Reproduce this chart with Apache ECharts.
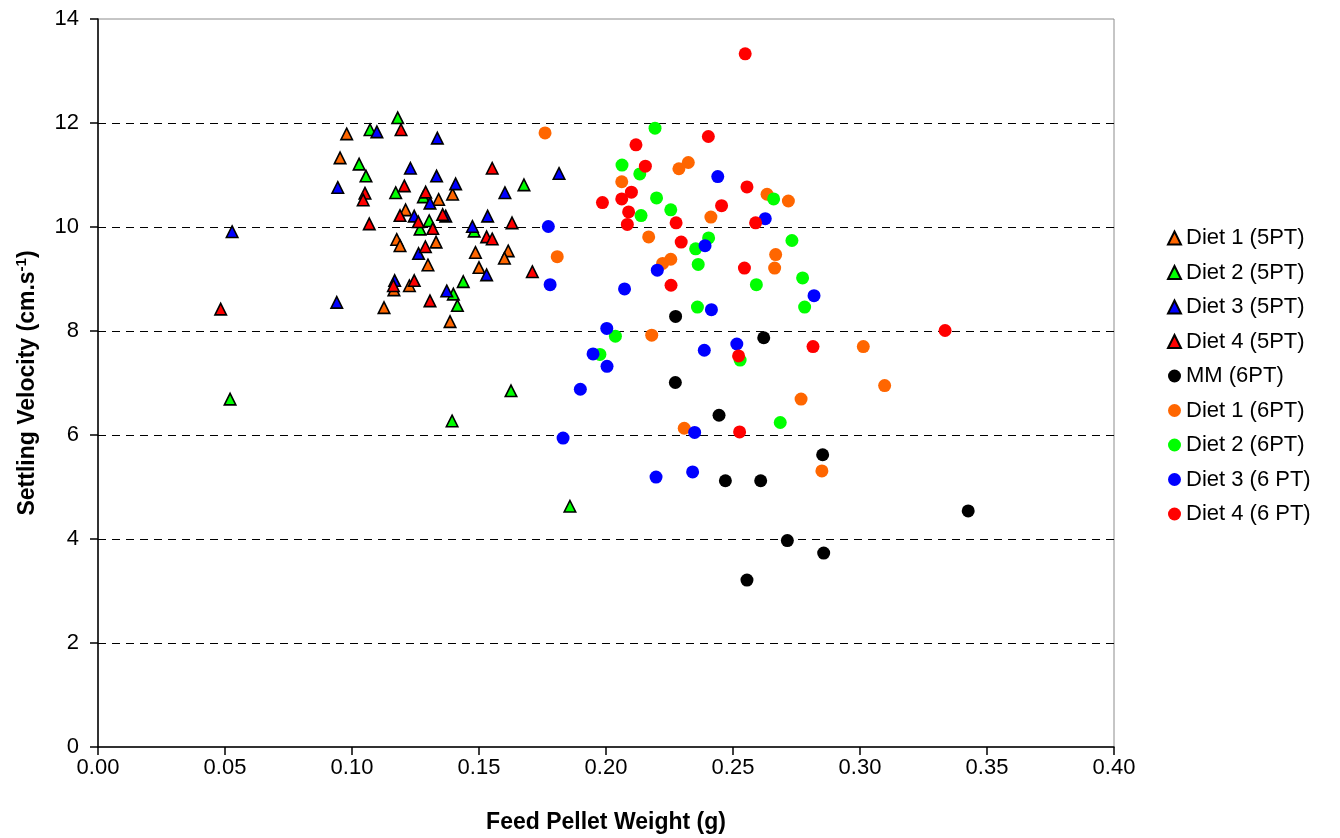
<!DOCTYPE html>
<html>
<head>
<meta charset="utf-8">
<script src="https://cdn.jsdelivr.net/npm/echarts@6/dist/echarts.min.js"></script>
<style>
html,body{margin:0;padding:0;background:#fff;}
#chart{width:1340px;height:838px;}
</style>
</head>
<body>
<div id="chart"></div>
<script>
// Feed pellet weight (g), settling velocity (cm/s)
const seriesNames = ['Diet 1 (5PT)','Diet 2 (5PT)','Diet 3 (5PT)','Diet 4 (5PT)','MM (6PT)','Diet 1 (6PT)','Diet 2 (6PT)','Diet 3 (6 PT)','Diet 4 (6 PT)'];
const xTicks = [0,0.05,0.10,0.15,0.20,0.25,0.30,0.35,0.40];
const yTicks = [0,2,4,6,8,10,12,14];

const diet1_5PT = [[0.0979,11.79],[0.0953,11.33],[0.1341,10.53],[0.1211,10.33],[0.1396,10.63],[0.1176,9.76],[0.1189,9.64],[0.1331,9.71],[0.1299,9.27],[0.1165,8.79],[0.1226,8.87],[0.1126,8.45],[0.1486,9.51],[0.1615,9.54],[0.1600,9.40],[0.1500,9.22],[0.1386,8.18]];
const diet2_5PT = [[0.1180,12.10],[0.1071,11.87],[0.1028,11.21],[0.1055,10.98],[0.1172,10.66],[0.1281,10.58],[0.1304,10.12],[0.1268,9.96],[0.1677,10.81],[0.1481,9.92],[0.1438,8.95],[0.1399,8.71],[0.1415,8.49],[0.1626,6.85],[0.1394,6.27],[0.0520,6.69],[0.1858,4.63]];
const diet3_5PT = [[0.1098,11.83],[0.1336,11.71],[0.1230,11.13],[0.1333,10.98],[0.0944,10.76],[0.1307,10.46],[0.1245,10.21],[0.1369,10.21],[0.1408,10.83],[0.1602,10.66],[0.1815,11.03],[0.1534,10.21],[0.1474,10.01],[0.1262,9.49],[0.1168,8.97],[0.0940,8.55],[0.1530,9.08],[0.1373,8.77],[0.0528,9.91]];
const diet4_5PT = [[0.1193,11.87],[0.1206,10.79],[0.1051,10.65],[0.1044,10.52],[0.1290,10.67],[0.1189,10.22],[0.1357,10.24],[0.1068,10.06],[0.1261,10.10],[0.1552,11.13],[0.1630,10.08],[0.1289,9.62],[0.1318,9.97],[0.1530,9.81],[0.1552,9.77],[0.1163,8.87],[0.1245,8.97],[0.1307,8.58],[0.1710,9.14],[0.0483,8.42]];
const mm_6PT = [[0.2274,8.28],[0.2621,7.87],[0.2273,7.01],[0.2445,6.38],[0.2853,5.62],[0.2470,5.12],[0.2609,5.12],[0.3426,4.54],[0.2714,3.97],[0.2857,3.73],[0.2555,3.21]];
const diet1_6PT = [[0.1760,11.81],[0.2324,11.24],[0.2287,11.12],[0.2062,10.87],[0.2413,10.19],[0.2634,10.63],[0.2718,10.50],[0.2168,9.81],[0.1808,9.43],[0.2223,9.30],[0.2255,9.38],[0.2668,9.47],[0.2664,9.21],[0.2180,7.92],[0.3013,7.70],[0.3097,6.95],[0.2768,6.69],[0.2308,6.13],[0.2850,5.31]];
const diet2_6PT = [[0.2193,11.90],[0.2063,11.19],[0.2133,11.02],[0.2199,10.56],[0.2255,10.33],[0.2138,10.22],[0.2660,10.54],[0.2404,9.79],[0.2353,9.58],[0.2363,9.28],[0.2732,9.74],[0.2774,9.02],[0.2592,8.89],[0.2360,8.46],[0.2782,8.46],[0.2037,7.90],[0.1976,7.55],[0.2528,7.44],[0.2686,6.24]];
const diet3_6PT = [[0.2440,10.97],[0.2627,10.16],[0.1773,10.01],[0.2390,9.64],[0.2202,9.17],[0.1780,8.89],[0.2073,8.81],[0.2819,8.68],[0.2415,8.41],[0.2003,8.05],[0.2515,7.75],[0.2387,7.63],[0.1949,7.56],[0.2004,7.32],[0.1899,6.88],[0.2349,6.05],[0.1831,5.94],[0.2341,5.29],[0.2197,5.19]];
const diet4_6PT = [[0.2548,13.33],[0.2403,11.74],[0.2118,11.58],[0.2155,11.17],[0.2100,10.67],[0.2062,10.54],[0.1986,10.47],[0.2089,10.29],[0.2084,10.05],[0.2276,10.08],[0.2455,10.41],[0.2555,10.77],[0.2589,10.08],[0.2296,9.71],[0.2545,9.21],[0.2256,8.88],[0.3335,8.01],[0.2815,7.70],[0.2522,7.52],[0.2526,6.06]];

const seriesData = [diet1_5PT,diet2_5PT,diet3_5PT,diet4_5PT,mm_6PT,diet1_6PT,diet2_6PT,diet3_6PT,diet4_6PT];
const seriesColors = ['#FF6600','#00FF00','#0000FF','#FF0000','#000000','#FF6600','#00FF00','#0000FF','#FF0000'];
const seriesShapes = ['triangle','triangle','triangle','triangle','circle','circle','circle','circle','circle'];

const FONT = "Arial, 'Liberation Sans', sans-serif";
const chart = echarts.init(document.getElementById('chart'), null, {renderer:'canvas'});

const series = seriesNames.map((name,i)=>{
  const tri = seriesShapes[i]==='triangle';
  return {
    name: name,
    type: 'scatter',
    data: seriesData[i],
    symbol: seriesShapes[i],
    symbolSize: tri ? 11.5 : 13,
    itemStyle: tri ? {color: seriesColors[i], borderColor:'#000', borderWidth:1.6, opacity:1}
                   : {color: seriesColors[i], borderWidth:0, opacity:1},
    emphasis: {disabled:true},
    animation: false
  };
});

const option = {
  backgroundColor: '#fff',
  animation: false,
  textStyle: {fontFamily: FONT},
  grid: {left: 98, right: 226, top: 19, bottom: 91, show: true, borderColor: '#8c8c8c', borderWidth: 1,
         backgroundColor:'transparent', containLabel: false, outerBoundsMode: 'none'},
  legend: {
    orient: 'vertical',
    left: 1162,
    top: 222,
    itemWidth: 13,
    itemHeight: 13,
    itemGap: 12.5,
    data: seriesNames.map((n,i)=>({name:n, icon: seriesShapes[i]})),
    textStyle: {fontFamily: FONT, fontSize: 22, color: '#000', padding:[0,0,0,0]},
    selectedMode: false
  },
  xAxis: {
    type: 'value',
    min: xTicks[0], max: xTicks[xTicks.length-1], interval: 0.05,
    name: 'Feed Pellet Weight (g)',
    nameLocation: 'middle',
    nameGap: 64,
    nameTextStyle: {fontFamily: FONT, fontSize: 23, fontWeight: 'bold', color: '#000'},
    axisLine: {show: true, onZero:false, lineStyle: {color: '#000', width: 1.5}},
    axisTick: {show: true, inside: false, length: 8, lineStyle: {color: '#000', width: 1.5}},
    axisLabel: {fontFamily: FONT, fontSize: 22, color: '#000', margin: 10, formatter: v => v.toFixed(2)},
    splitLine: {show: false}
  },
  yAxis: {
    type: 'value',
    min: yTicks[0], max: yTicks[yTicks.length-1], interval: 2,
    name: 'Settling Velocity (cm.s{sup|-1})',
    nameLocation: 'middle',
    nameRotate: 90,
    nameGap: 56,
    nameTextStyle: {fontFamily: FONT, fontSize: 23, fontWeight: 'bold', color: '#000', lineHeight: 28,
      rich: {sup: {fontFamily: FONT, fontSize: 15, fontWeight: 'bold', color:'#000', verticalAlign: 'top', lineHeight: 16}}},
    axisLine: {show: true, lineStyle: {color: '#000', width: 1.5}},
    axisTick: {show: true, inside: false, length: 8, lineStyle: {color: '#000', width: 1.5}},
    axisLabel: {fontFamily: FONT, fontSize: 22, color: '#000', margin: 19},
    splitLine: {show: true, showMinLine: false, showMaxLine: false, lineStyle: {color: '#000', width: 1, type: [8,6]}}
  },
  series: series
};
chart.setOption(option);
</script>
</body>
</html>
